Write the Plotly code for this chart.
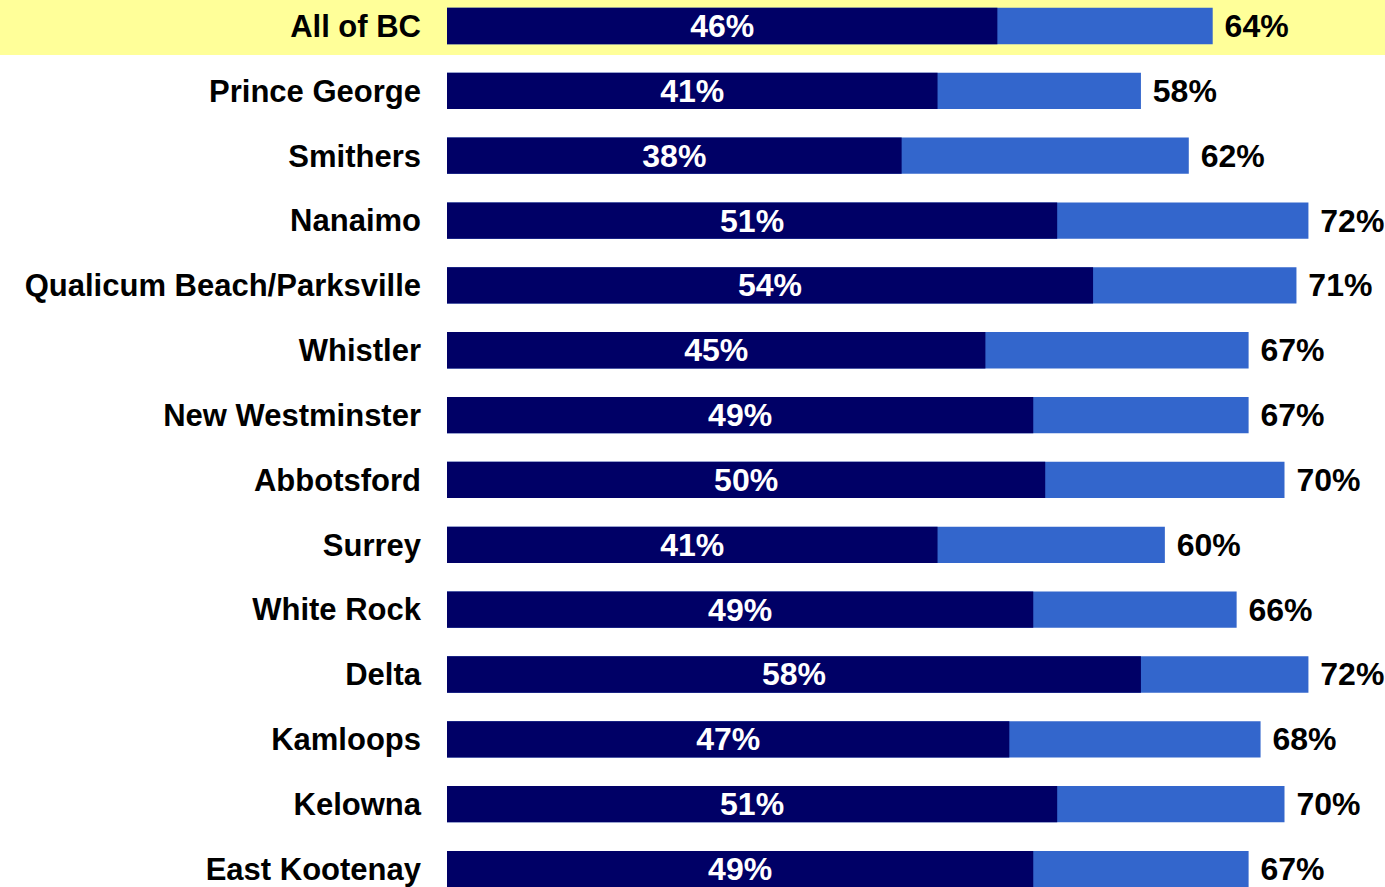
import plotly.graph_objects as go

regions = [
    "All of BC", "Prince George", "Smithers", "Nanaimo",
    "Qualicum Beach/Parksville", "Whistler", "New Westminster",
    "Abbotsford", "Surrey", "White Rock", "Delta", "Kamloops",
    "Kelowna", "East Kootenay",
]
core_pct = [46, 41, 38, 51, 54, 45, 49, 50, 41, 49, 58, 47, 51, 49]
total_pct = [64, 58, 62, 72, 71, 67, 67, 70, 60, 66, 72, 68, 70, 67]

rows = list(range(len(regions)))
font_family = "Liberation Sans, Arial, sans-serif"

fig = go.Figure()

# Total share: lighter bar behind, value printed just past its end
fig.add_trace(go.Bar(
    y=rows, x=total_pct, orientation="h",
    marker=dict(color="#3366CC", line=dict(width=0)),
    width=0.56,
    text=[f"\u00a0{v}%" for v in total_pct],
    textposition="outside",
    constraintext="none",
    textfont=dict(family=font_family, size=32, color="black", weight="bold"),
    cliponaxis=False,
    hoverinfo="skip",
))

# Core share: dark bar on top, value centred in white
fig.add_trace(go.Bar(
    y=rows, x=core_pct, orientation="h",
    marker=dict(color="#000066", line=dict(width=0)),
    width=0.56,
    text=[f"{v}%" for v in core_pct],
    textposition="inside",
    insidetextanchor="middle",
    constraintext="none",
    textfont=dict(family=font_family, size=32, color="white", weight="bold"),
    hoverinfo="skip",
))

# Highlight band behind the province-wide row
fig.add_shape(
    type="rect", xref="paper", yref="y",
    x0=-0.48, x1=1.0, y0=-0.41, y1=0.447,
    fillcolor="#FFFF99", line=dict(width=0), layer="below",
)

fig.update_layout(
    width=1385, height=887,
    margin=dict(l=447, r=0, t=0, b=0),
    barmode="overlay",
    showlegend=False,
    plot_bgcolor="white", paper_bgcolor="white",
    uniformtext=dict(mode=False),
    font=dict(family=font_family, size=31, color="black"),
    xaxis=dict(range=[0, 78.4], visible=False, fixedrange=True),
    yaxis=dict(
        range=[13.277, -0.401],
        tickmode="array", tickvals=rows, ticktext=regions,
        tickfont=dict(family=font_family, size=31, color="black", weight="bold"),
        ticks="", showgrid=False, zeroline=False, showline=False,
        ticklabelstandoff=25, fixedrange=True,
    ),
)

fig.write_html("out.html")
